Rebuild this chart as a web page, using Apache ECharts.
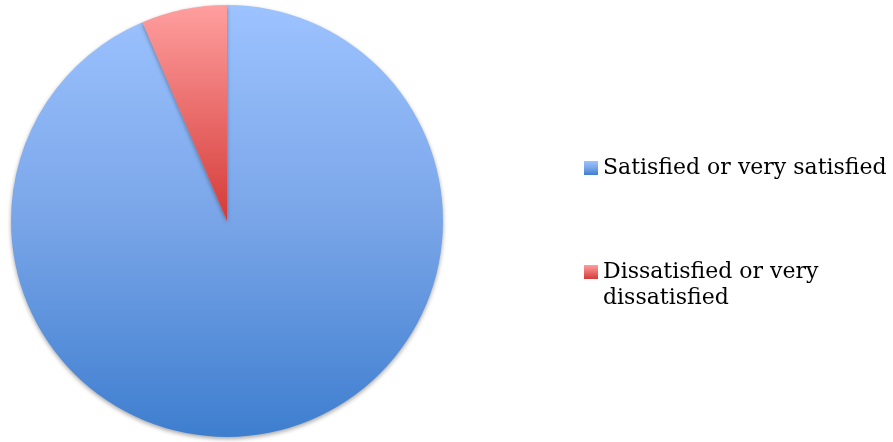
<!DOCTYPE html>
<html><head><meta charset="utf-8">
<script src="https://cdn.jsdelivr.net/npm/echarts@6/dist/echarts.min.js"></script>
<style>html,body{margin:0;padding:0;background:#fff}#c{width:893px;height:442px}</style>
</head><body><div id="c"></div>
<script>
const categories = ["Satisfied or very satisfied", "Dissatisfied or very dissatisfied"];
const values = [93.6, 6.4];
const labels = ["Satisfied or very satisfied", " \nDissatisfied or very\ndissatisfied"];
const colorStops = [
  [["#9dc3ff", 0], ["#79a5e8", 0.5], ["#3e7ecf", 1]],
  [["#ff9f9f", 0], ["#d43b38", 1]]
];
function grad(stops){
  return new echarts.graphic.LinearGradient(0,0,0,1, stops.map(s=>({offset:s[1], color:s[0]})));
}
const tStyle = {fontFamily:'DejaVu Serif', fontSize:22, color:'#000', lineHeight:26};
const chart = echarts.init(document.getElementById('c'));
chart.setOption({
  animation:false,
  legend:[{
    orient:'vertical', left:579, top:150,
    itemWidth:14, itemHeight:14, icon:'rect',
    data:[categories[0]],
    formatter:function(n){return labels[categories.indexOf(n)];},
    textStyle:tStyle
  },{
    orient:'vertical', left:579, top:228,
    itemWidth:14, itemHeight:14, icon:'rect',
    data:[categories[1]],
    formatter:function(n){return labels[categories.indexOf(n)];},
    textStyle:tStyle
  }],
  series:[{
    type:'pie', center:[227,221], radius:216, startAngle:90, clockwise:true,
    label:{show:false}, labelLine:{show:false}, silent:true,
    data:categories.map((c,i)=>({name:c, value:values[i],
      itemStyle:{color:grad(colorStops[i]), shadowBlur:4, shadowOffsetY:2, shadowColor:'rgba(0,0,0,0.35)'}}))
  }]
});
</script></body></html>
